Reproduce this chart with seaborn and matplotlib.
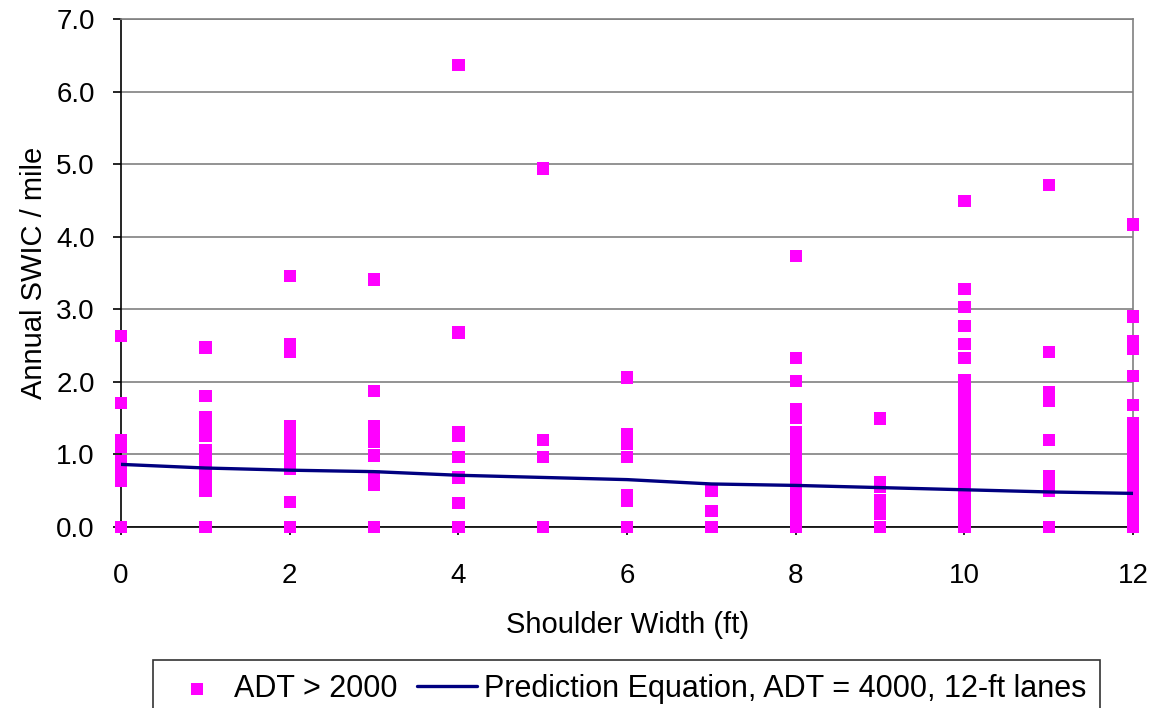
import numpy as np
import pandas as pd
import matplotlib
matplotlib.use('Agg')
import matplotlib.pyplot as plt
import seaborn as sns

# observed SWIC per mile, grouped by shoulder width (ft)
swic_0 = [2.63, 1.71, 1.20, 1.10, 0.90, 0.75, 0.64, 0.0]
swic_1 = [2.47, 1.80, 1.51, 1.42, 1.33, 1.26, 1.06, 0.95, 0.85, 0.75, 0.65, 0.55, 0.50, 0.0]
swic_2 = [3.46, 2.52, 2.41, 1.38, 1.30, 1.20, 1.10, 1.00, 0.90, 0.80, 0.34, 0.0]
swic_3 = [3.41, 1.87, 1.38, 1.30, 1.22, 1.17, 0.98, 0.70, 0.58, 0.0]
swic_4 = [6.37, 2.68, 1.30, 1.26, 0.96, 0.68, 0.33, 0.0]
swic_5 = [4.94, 1.20, 0.96, 0.0]
swic_6 = [2.06, 1.27, 1.20, 1.15, 0.96, 0.43, 0.36, 0.0]
swic_7 = [0.50, 0.22, 0.0]
swic_8 = [3.73, 2.33, 2.01, 1.62, 1.50, 1.30, 1.20, 1.10, 1.00, 0.90, 0.80, 0.70,
          0.60, 0.50, 0.40, 0.30, 0.20, 0.10, 0.05, 0.0]
swic_9 = [1.49, 0.62, 0.55, 0.36, 0.27, 0.18, 0.0]
swic_10 = [4.49, 3.28, 3.03, 2.77, 2.52, 2.33, 2.02, 1.95, 1.85, 1.75, 1.65, 1.55,
           1.45, 1.35, 1.25, 1.15, 1.05, 0.95, 0.85, 0.75, 0.65, 0.55, 0.45, 0.35,
           0.25, 0.15, 0.08, 0.0]
swic_11 = [4.71, 2.41, 1.86, 1.74, 1.20, 0.70, 0.60, 0.50, 0.0]
swic_12 = [4.17, 2.90, 2.56, 2.45, 2.08, 1.68, 1.43, 1.35, 1.25, 1.15, 1.05, 0.95,
           0.85, 0.75, 0.65, 0.55, 0.45, 0.35, 0.25, 0.15, 0.05, 0.0]

# prediction equation (ADT = 4000, 12-ft lanes)
pred_width = [0, 1, 2, 3, 4, 5, 6, 7, 8, 9, 10, 11, 12]
pred_swic = [0.86, 0.81, 0.78, 0.76, 0.71, 0.68, 0.65, 0.59, 0.57, 0.54, 0.51, 0.48, 0.46]

groups = [swic_0, swic_1, swic_2, swic_3, swic_4, swic_5, swic_6,
          swic_7, swic_8, swic_9, swic_10, swic_11, swic_12]
obs = pd.DataFrame({
    'width': [w for w, g in enumerate(groups) for _ in g],
    'swic': [v for g in groups for v in g],
})
pred = pd.DataFrame({'width': pred_width, 'swic': pred_swic})

sns.set_style('white')
plt.rcParams['font.family'] = ['Liberation Sans', 'DejaVu Sans']
plt.rcParams['text.color'] = 'black'
plt.rcParams['axes.labelcolor'] = 'black'
plt.rcParams['xtick.color'] = 'black'
plt.rcParams['ytick.color'] = 'black'

fig = plt.figure(figsize=(11.56, 7.08), dpi=100)
ax = fig.add_axes([0.1047, 0.256, 0.8755, 0.717])

sns.scatterplot(data=obs, x='width', y='swic', ax=ax, marker='s', s=80,
                color='#FF00FF', edgecolor='none', linewidth=0, clip_on=False,
                zorder=3, label='ADT > 2000')
sns.lineplot(data=pred, x='width', y='swic', ax=ax, color='#000080',
             linewidth=2.4, zorder=4, label='Prediction Equation, ADT = 4000, 12-ft lanes')

ax.set_xlim(0, 12)
ax.set_ylim(0, 7)
ax.set_xticks(range(0, 13, 2))
ax.set_yticks(np.arange(0, 7.01, 1.0))
ax.set_yticklabels([f'{v:.1f}' for v in np.arange(0, 7.01, 1.0)])
ax.grid(axis='y', color='#808080', linewidth=1.2)
ax.set_axisbelow(True)
ax.tick_params(axis='both', labelsize=20, length=6, width=1.2, colors='black',
               direction='out', bottom=True, left=True)
ax.tick_params(axis='x', pad=20)
ax.tick_params(axis='y', pad=13)
for s in ['top', 'right']:
    ax.spines[s].set_color('#808080')
    ax.spines[s].set_linewidth(1.2)
for s in ['left', 'bottom']:
    ax.spines[s].set_color('black')
    ax.spines[s].set_linewidth(1.2)

ax.set_xlabel('Shoulder Width (ft)', fontsize=21, labelpad=16)
ax.set_ylabel('Annual SWIC / mile', fontsize=21, labelpad=6)

ax.get_legend().remove()
h, l = ax.get_legend_handles_labels()
leg = fig.legend(h, l, loc='upper left', bbox_to_anchor=(0.1324, 0.0678),
                 borderaxespad=0, ncol=2, fontsize=22, frameon=True,
                 fancybox=False, edgecolor='black', handlelength=1.96,
                 columnspacing=0.65, handletextpad=0.23, borderpad=0.45,
                 markerscale=1.0)
leg.get_frame().set_linewidth(1.2)

fig.savefig('out.png', dpi=100)
